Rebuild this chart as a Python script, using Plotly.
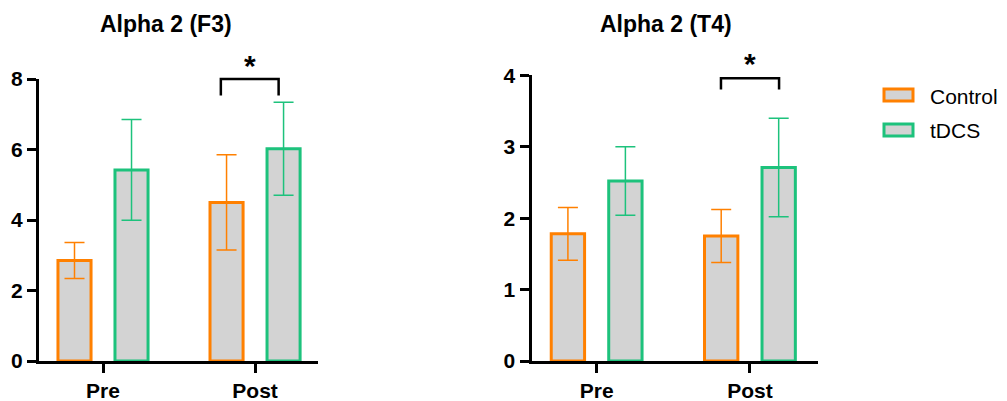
import plotly.graph_objects as go

# ---------------- data ----------------
categories = ["Pre", "Post"]
cat_pos = [0, 1]

f3_control = [2.85, 4.50]
f3_control_err = [0.51, 1.35]
f3_tdcs = [5.42, 6.02]
f3_tdcs_err = [1.43, 1.32]

t4_control = [1.78, 1.75]
t4_control_err = [0.37, 0.37]
t4_tdcs = [2.52, 2.71]
t4_tdcs_err = [0.48, 0.69]

f3_yticks = [0, 2, 4, 6, 8]
t4_yticks = [0, 1, 2, 3, 4]

# significance brackets: x-left, x-right, y-top, y-bottom, star x, star y
f3_sig = [0.775, 1.155, 8.0, 7.53, 0.967, 8.48]
t4_sig = [0.811, 1.19, 3.96, 3.80, 1.0, 4.21]

titles = ["Alpha 2 (F3)", "Alpha 2 (T4)"]
series_names = ["Control", "tDCS"]

# ---------------- style ----------------
ORANGE = "#FF8000"
GREEN = "#1DC27C"
FILL = "#D3D3D3"
FONT = "Arial, Liberation Sans, sans-serif"
OFF = 8  # default page body margin
W, H = 1007 - OFF, 401 - OFF


def px_x(x):
    return (x - OFF) / W


def px_y(y):
    return (H - (y - OFF)) / H


x1_range = [-0.421, 1.414]
x2_range = [-0.425, 1.444]
y1_range = [0, 8]
y2_range = [0, 4]

fig = go.Figure()


def add_bars(xa, ya, ctrl, ctrl_e, tdcs, tdcs_e):
    for vals, errs, col, name in [(ctrl, ctrl_e, ORANGE, series_names[0]),
                                  (tdcs, tdcs_e, GREEN, series_names[1])]:
        fig.add_trace(go.Bar(
            x=cat_pos, y=vals, name=name, xaxis=xa, yaxis=ya,
            marker=dict(color=FILL, line=dict(color=col, width=3)),
            error_y=dict(type="data", array=errs, visible=True,
                         color=col, thickness=1.5, width=10),
            showlegend=False, offsetgroup=name,
        ))


add_bars("x", "y", f3_control, f3_control_err, f3_tdcs, f3_tdcs_err)
add_bars("x2", "y2", t4_control, t4_control_err, t4_tdcs, t4_tdcs_err)

axis_common = dict(showline=True, linewidth=3, linecolor="black",
                   ticks="outside", ticklen=9, tickwidth=3, tickcolor="black",
                   showgrid=False, zeroline=False, fixedrange=True, automargin=False,
                   tickfont=dict(family=FONT, size=21, color="black", weight="bold"))

fig.update_layout(
    width=W, height=H,
    margin=dict(l=0, r=0, t=0, b=0, pad=0),
    paper_bgcolor="white", plot_bgcolor="white",
    barmode="group", bargap=0.25, bargroupgap=0.42,
    showlegend=False,
    xaxis=dict(domain=[px_x(39), px_x(318)], range=x1_range, anchor="y",
               tickvals=cat_pos, ticktext=categories, **axis_common),
    yaxis=dict(domain=[px_y(361), px_y(79)], range=y1_range, anchor="x",
               tickvals=f3_yticks, **axis_common),
    xaxis2=dict(domain=[px_x(531.5), px_x(818)], range=x2_range, anchor="y2",
                tickvals=cat_pos, ticktext=categories, **axis_common),
    yaxis2=dict(domain=[px_y(361), px_y(75.3)], range=y2_range, anchor="x2",
                tickvals=t4_yticks, **axis_common),
)


def frac(v, r):
    return (v - r[0]) / (r[1] - r[0])


def add_sig(sig, xa, ya, xr, yr):
    xl, xrt, yt, yb, sx, sy = sig
    xs = [frac(xl, xr), frac(xl, xr), frac(xrt, xr), frac(xrt, xr)]
    ys = [frac(yb, yr), frac(yt, yr), frac(yt, yr), frac(yb, yr)]
    path = "M {} {} L {} {} L {} {} L {} {}".format(xs[0], ys[0], xs[1], ys[1],
                                                  xs[2], ys[2], xs[3], ys[3])
    fig.add_shape(type="path", path=path, xref=xa + " domain", yref=ya + " domain",
                  line=dict(color="black", width=2.5))
    fig.add_annotation(x=frac(sx, xr), y=frac(sy, yr), xref=xa + " domain",
                       yref=ya + " domain", text="*", showarrow=False,
                       xanchor="center", yanchor="middle",
                       font=dict(family=FONT, size=30, color="black", weight="bold"),
                       yshift=-3)


add_sig(f3_sig, "x", "y", x1_range, y1_range)
add_sig(t4_sig, "x2", "y2", x2_range, y2_range)

# titles
for t, cx in zip(titles, [166, 665.5]):
    fig.add_annotation(x=px_x(cx), y=px_y(24), xref="paper", yref="paper",
                       text=t, showarrow=False, xanchor="center", yanchor="middle",
                       font=dict(family=FONT, size=23, color="black", weight="bold"))

# legend (drawn manually to match the wide swatches)
for name, col, cy in zip(series_names, [ORANGE, GREEN], [95, 130]):
    fig.add_shape(type="rect", xref="paper", yref="paper",
                  x0=px_x(884), x1=px_x(913), y0=px_y(cy + 6), y1=px_y(cy - 6),
                  fillcolor=FILL, line=dict(color=col, width=3))
    fig.add_annotation(x=px_x(928), y=px_y(cy + 1), xref="paper", yref="paper",
                       text=name, showarrow=False, xanchor="left", yanchor="middle",
                       font=dict(family=FONT, size=21, color="black"))

fig.write_html("out.html")
